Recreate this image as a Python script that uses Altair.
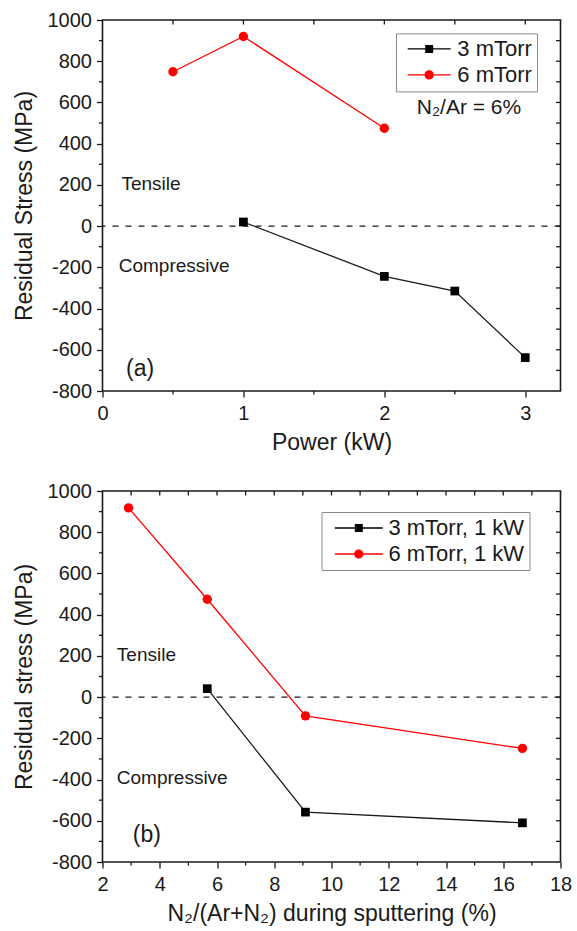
import altair as alt
import pandas as pd

FONT = "Liberation Sans"
INK = "#1a1a1a"

# ---------------- data: panel (a) ----------------
series_a = ["3 mTorr", "6 mTorr"]
power_3 = [1.0, 2.0, 2.5, 3.0]
stress_a3 = [20, -244, -315, -638]
power_6 = [0.5, 1.0, 2.0]
stress_a6 = [749, 920, 475]

# ---------------- data: panel (b) ----------------
series_b = ["3 mTorr, 1 kW", "6 mTorr, 1 kW"]
n2_3 = [5.66, 9.09, 16.67]
stress_b3 = [41, -558, -610]
n2_6 = [2.91, 5.66, 9.09, 16.67]
stress_b6 = [918, 475, -91, -249]

# ---------------- ticks ----------------
y_major = [-800, -600, -400, -200, 0, 200, 400, 600, 800, 1000]
y_minor = [-700, -500, -300, -100, 100, 300, 500, 700, 900]
xa_major = [0, 1, 2, 3]
xa_minor = [0.5, 1.5, 2.5]
xb_major = [2, 4, 6, 8, 10, 12, 14, 16, 18]
xb_minor = [3, 5, 7, 9, 11, 13, 15, 17]

W, H = 458, 371


def legend_paths(line_len):
    # line + marker glyphs in the unit box [-1, 1]; half line length = 1
    half = line_len / 2.0
    t = 0.65 / half
    sq = 4.0 / half
    r = 4.6 / half
    bar = f"M-1,{-t:.4f}L1,{-t:.4f}L1,{t:.4f}L-1,{t:.4f}Z"
    square = bar + f"M{-sq:.4f},{-sq:.4f}L{sq:.4f},{-sq:.4f}L{sq:.4f},{sq:.4f}L{-sq:.4f},{sq:.4f}Z"
    circle = bar + f"M{r:.4f},0A{r:.4f},{r:.4f} 0 1,1 {-r:.4f},0A{r:.4f},{r:.4f} 0 1,1 {r:.4f},0Z"
    return square, circle


def panel(xs3, ys3, xs6, ys6, series, xdom, xmaj, xmin, xtitle, ytitle,
          notes, tag, tag_xy, leg_opts, line_len, extra=None):
    df = pd.DataFrame({
        "x": list(xs3) + list(xs6),
        "y": list(ys3) + list(ys6),
        "series": [series[0]] * len(xs3) + [series[1]] * len(xs6),
    })
    xs = alt.Scale(domain=xdom, nice=False, zero=False)
    ys = alt.Scale(domain=[-800, 1000], nice=False, zero=False)
    lab = "datum.value + ''"
    xaxis = alt.Axis(values=xmaj, title=xtitle, labelExpr=lab, grid=False, domain=False,
                     tickSize=6, tickColor=INK, tickWidth=1.3, labelPadding=6,
                     labelFontSize=20, labelFont=FONT, labelColor=INK,
                     titleFontSize=23, titleFont=FONT, titleFontWeight="normal",
                     titleColor=INK, titlePadding=8, labelFlush=False, labelOverlap=False)
    yaxis = alt.Axis(values=y_major, title=ytitle, labelExpr=lab, grid=False, domain=False,
                     tickSize=6, tickColor=INK, tickWidth=1.3, labelPadding=5,
                     labelFontSize=20, labelFont=FONT, labelColor=INK,
                     titleFontSize=23, titleFont=FONT, titleFontWeight="normal",
                     titleColor=INK, titlePadding=11, labelFlush=False, labelOverlap=False)

    X = alt.X("x:Q", scale=xs, axis=xaxis)
    Y = alt.Y("y:Q", scale=ys, axis=yaxis)
    base = alt.Chart(df)

    zero = alt.Chart(pd.DataFrame({"y": [0]})).mark_rule(
        strokeDash=[6, 7], strokeWidth=1.3, color=INK).encode(y=Y)

    line3 = base.transform_filter(alt.datum.series == series[0]).mark_line(
        color=INK, strokeWidth=1.3).encode(x=X, y=Y)
    line6 = base.transform_filter(alt.datum.series == series[1]).mark_line(
        color="#ff0000", strokeWidth=1.3).encode(x=X, y=Y)
    pts3 = base.transform_filter(alt.datum.series == series[0]).mark_square(
        color="#000000", size=76, opacity=1).encode(x=X, y=Y)
    pts6 = base.transform_filter(alt.datum.series == series[1]).mark_circle(
        color="#ff0000", size=88, opacity=1).encode(x=X, y=Y)

    sq_path, ci_path = legend_paths(line_len)
    leg = dict(orient="none", title=None, labelFontSize=22, labelFont=FONT, labelColor=INK,
               symbolSize=line_len * line_len, symbolStrokeWidth=0, strokeColor="#8a8a8a",
               fillColor="white", cornerRadius=0, **leg_opts)
    legend_layer = base.transform_filter("false").mark_point(
        filled=True, strokeWidth=0, opacity=1
    ).encode(
        x=X, y=Y,
        color=alt.Color("series:N", scale=alt.Scale(domain=series, range=["#000000", "#ff0000"]),
                        legend=alt.Legend(**leg)),
        shape=alt.Shape("series:N", scale=alt.Scale(domain=series, range=[sq_path, ci_path]),
                        legend=alt.Legend(**leg)),
    )

    # minor / mirror ticks drawn through the scales
    lminor = alt.Chart(pd.DataFrame({"y": y_minor})).mark_rule(color=INK, strokeWidth=1.3).encode(
        y=Y, x=alt.value(-3.5), x2=alt.value(0))
    rticks = alt.Chart(pd.DataFrame({"y": y_major[1:-1] + y_minor})).mark_rule(
        color=INK, strokeWidth=1.3).encode(y=Y, x=alt.value(W - 4.5), x2=alt.value(W))
    bminor = alt.Chart(pd.DataFrame({"x": xmin})).mark_rule(color=INK, strokeWidth=1.3).encode(
        x=X, y=alt.value(H), y2=alt.value(H + 3.5))
    tticks = alt.Chart(pd.DataFrame({"x": [v for v in xmaj + xmin if xdom[0] < v < xdom[1]]})).mark_rule(
        color=INK, strokeWidth=1.3).encode(x=X, y=alt.value(0), y2=alt.value(4.5))

    ndf = pd.DataFrame(notes, columns=["x", "y", "t"])
    note_layer = alt.Chart(ndf).mark_text(align="left", baseline="middle", fontSize=19,
                                          font=FONT, color=INK).encode(x=X, y=Y, text="t:N")
    tag_layer = alt.Chart(pd.DataFrame({"x": [tag_xy[0]], "y": [tag_xy[1]], "t": [tag]})).mark_text(
        align="left", baseline="middle", fontSize=23, font=FONT, color=INK).encode(
        x=X, y=Y, text="t:N")

    layers = [zero, line3, line6, pts3, pts6, legend_layer, lminor, rticks, bminor, tticks,
              note_layer, tag_layer]
    if extra is not None:
        edf = pd.DataFrame([extra], columns=["x", "y", "t"])
        layers.append(alt.Chart(edf).mark_text(align="left", baseline="middle", fontSize=21,
                                               font=FONT, color=INK).encode(
            x=X, y=Y, text="t:N"))
    return alt.layer(*layers).properties(width=W, height=H)


legend_a = dict(legendX=293.5, legendY=13.4, padding=5, clipHeight=21, rowPadding=3,
                symbolOffset=6.7, labelOffset=6.6)
legend_b = dict(legendX=219, legendY=21, padding=5, clipHeight=22, rowPadding=4,
                symbolOffset=8.3, labelOffset=5.6)

panel_a = panel(power_3, stress_a3, power_6, stress_a6, series_a, [0, 3.25], xa_major, xa_minor,
                "Power (kW)", "Residual Stress (MPa)",
                [(0.134, 202, "Tensile"), (0.115, -194, "Compressive")],
                "(a)", (0.167, -695), legend_a, 43,
                extra=(2.23, 575, "N\u2082/Ar = 6%"))
panel_b = panel(n2_3, stress_b3, n2_6, stress_b6, series_b, [2, 18], xb_major, xb_minor,
                "N\u2082/(Ar+N\u2082) during sputtering (%)", "Residual stress (MPa)",
                [(2.5, 203, "Tensile"), (2.5, -394, "Compressive")],
                "(b)", (3.06, -668), legend_b, 48)

chart = alt.vconcat(panel_a, panel_b, spacing=25).resolve_scale(
    color="independent", shape="independent"
).resolve_legend(color="independent", shape="independent").properties(
    padding={"left": 11.5, "top": 9, "right": 4, "bottom": 4},
    background="white",
).configure_view(stroke=INK, strokeWidth=1.6)

chart.save("out.html", embed_options={"renderer": "svg", "actions": False})
